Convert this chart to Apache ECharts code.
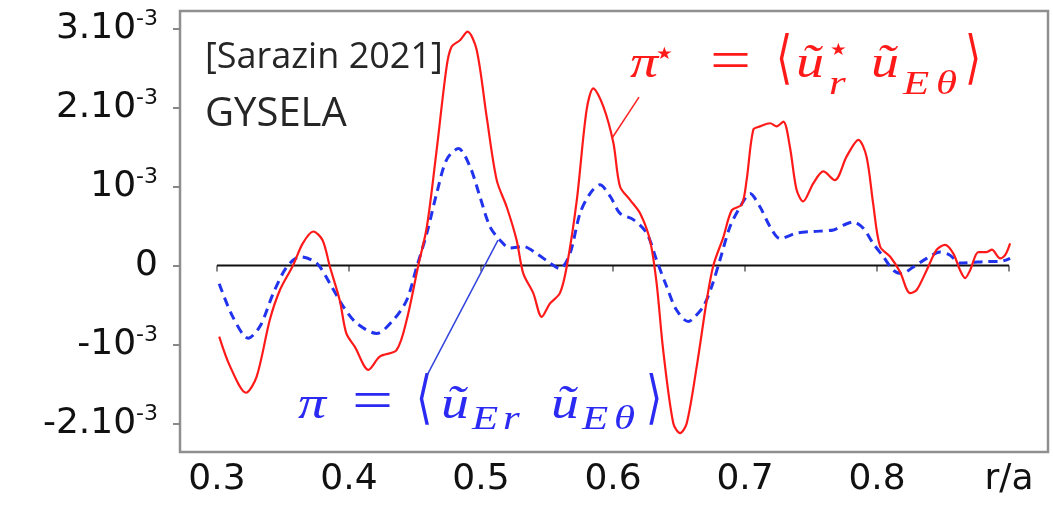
<!DOCTYPE html>
<html><head><meta charset="utf-8">
<script src="https://cdn.jsdelivr.net/npm/echarts@6/dist/echarts.min.js"></script>
<style>html,body{margin:0;padding:0;background:#fff}#c{width:1053px;height:506px}</style>
</head><body><div id="c"></div>
<script>
// values in units of 1e-3
const piStarR = [0.3017,0.31,0.322,0.330,0.340,0.3477,0.3576,0.365,0.373,0.380,0.3856,0.393,0.398,0.4045,0.4147,0.4235,0.436,0.4437,0.4525,0.459,0.4664,0.474,0.4778,0.4841,0.4898,0.4967,0.5043,0.5119,0.5195,0.527,0.532,0.5396,0.546,0.5523,0.5598,0.565,0.5726,0.580,0.5851,0.5927,0.6003,0.6053,0.6129,0.6205,0.628,0.633,0.638,0.6457,0.6508,0.6558,0.6634,0.671,0.676,0.6836,0.690,0.6975,0.7012,0.7063,0.7114,0.719,0.724,0.729,0.734,0.739,0.744,0.7517,0.7593,0.768,0.777,0.7859,0.792,0.797,0.8023,0.81,0.8174,0.825,0.830,0.8376,0.8452,0.8515,0.8578,0.8629,0.8667,0.8705,0.8768,0.883,0.887,0.8932,0.897,0.9008];
const piStarVal = [-0.90,-1.28,-1.61,-1.41,-0.69,-0.31,0.0,0.28,0.43,0.32,-0.02,-0.44,-0.86,-1.03,-1.32,-1.15,-1.07,-0.69,0.0,0.49,1.46,2.52,2.77,2.85,2.96,2.73,1.88,1.08,0.74,0.32,-0.10,-0.35,-0.65,-0.48,-0.35,-0.01,0.83,1.97,2.24,2.01,1.55,1.0,0.83,0.66,0.32,-0.22,-1.07,-2.0,-2.12,-2.0,-1.28,-0.44,0.0,0.36,0.70,0.77,1.08,1.72,1.76,1.80,1.76,1.82,1.50,0.96,0.81,1.04,1.19,1.08,1.38,1.59,1.38,0.79,0.24,0.11,-0.08,-0.35,-0.31,-0.06,0.20,0.26,0.15,-0.06,-0.16,-0.06,0.17,0.17,0.20,0.09,0.13,0.28];
const piR = [0.3017,0.312,0.3237,0.3326,0.3427,0.3528,0.363,0.3755,0.3856,0.3957,0.4058,0.421,0.4336,0.4437,0.4513,0.459,0.4664,0.474,0.4829,0.4917,0.4992,0.5068,0.5144,0.522,0.532,0.5422,0.5523,0.5598,0.5674,0.575,0.5826,0.590,0.598,0.6053,0.6154,0.6255,0.633,0.6407,0.648,0.657,0.6608,0.6684,0.6747,0.681,0.6886,0.6962,0.7038,0.7114,0.719,0.7265,0.739,0.7517,0.767,0.7745,0.782,0.7896,0.797,0.8048,0.8124,0.8187,0.8275,0.8376,0.8477,0.8553,0.8629,0.873,0.883,0.8932,0.9008];
const piVal = [-0.23,-0.65,-0.92,-0.77,-0.35,-0.02,0.11,0.03,-0.23,-0.52,-0.73,-0.86,-0.69,-0.44,-0.02,0.41,0.91,1.34,1.48,1.25,0.87,0.49,0.32,0.22,0.24,0.15,0.03,-0.04,0.15,0.66,0.91,1.02,0.87,0.66,0.58,0.41,0.07,-0.27,-0.56,-0.71,-0.67,-0.52,-0.27,0.07,0.49,0.74,0.91,0.74,0.49,0.34,0.41,0.43,0.45,0.51,0.55,0.47,0.28,0.11,-0.06,-0.10,-0.02,0.09,0.17,0.13,0.03,0.04,0.05,0.05,0.09];
const zeroR = [0.3, 0.9];
const zeroVal = [0, 0];
const xTicks = [0.3,0.4,0.5,0.6,0.7,0.8,0.9];
const xTickLabels = ['0.3','0.4','0.5','0.6','0.7','0.8','r/a'];
const yTicks = [-2,-1,0,1,2,3];
const yTickMant = ['-2.10','-10','0','10','2.10','3.10'];
const yTickExp = ['-3','-3','','-3','-3','-3'];
// leader lines (data coords)
const redLeader = [[0.6197,2.13],[0.5992,1.61]];
const blueLeader = [[0.4591,-1.39],[0.5129,0.32]];

// formula glyph layout: [text, left, vertical ref, kind]
// kinds: i = italic main, s = italic subscript, st = star, eq = '=', br = bracket
const redFormula = [['π',630,81,'i'],['★',656,55,'st'],['=',710,69,'eq'],['⟨',776,67,'br'],['ũ',796,81,'i'],['★',830,51,'st'],['r',829,97,'s'],
  ['ũ',871,81,'i'],['E',903,97,'s'],['θ',936,97,'s'],['⟩',965,67,'br']];
const blueFormula = [['π',298,422,'i'],['=',352,409,'eq'],['⟨',416,407,'br'],['ũ',441,422,'i'],['E',472,432,'s'],['r',503,432,'s'],
  ['ũ',551,422,'i'],['E',582,432,'s'],['θ',614,432,'s'],['⟩',646,407,'br']];

const pairs = (xs, ys) => xs.map((x, i) => [x, ys[i]]);
const findIdx = (arr, v) => arr.findIndex(t => Math.abs(t - v) < 1e-6);

const glyphStyle = {
  i:  {fontFamily:'Liberation Serif', fontStyle:'italic', fontSize:46, dy:-0.34 * 46, sx:1.22},
  s:  {fontFamily:'Liberation Serif', fontStyle:'italic', fontSize:33, dy:-0.34 * 33, sx:1.3},
  st: {fontFamily:'DejaVu Sans', fontStyle:'normal', fontSize:17, dy:0, sx:1.1},
  eq: {fontFamily:'Liberation Serif', fontStyle:'normal', fontSize:56, dy:-5, sx:1.3},
  br: {fontFamily:'DejaVu Sans', fontStyle:'normal', fontSize:58, dy:-5, sx:0.72}
};
function glyphs(list, color) {
  return list.map(([t, x, y, k]) => {
    const g = glyphStyle[k];
    return {type:'text', x: x, y: y + g.dy, scaleX: g.sx, silent:true,
      style:{text:t, x:0, y:0, fontFamily:g.fontFamily, fontStyle:g.fontStyle, fontSize:g.fontSize, fill:color, align:'left', verticalAlign:'middle'}};
  });
}

const chart = echarts.init(document.getElementById('c'));
const option = {
  animation: false,
  grid: {left:180, right:5, top:11, bottom:54, show:true, borderColor:'#8f8f8f', borderWidth:2.5, backgroundColor:'#fff'},
  xAxis: {
    type:'value', min:0.272, max:0.9295,
    axisLine:{show:false}, splitLine:{show:false},
    axisTick:{show:true, customValues:xTicks, length:6, lineStyle:{color:'#888', width:2}},
    axisLabel:{customValues:xTicks, formatter:v => xTickLabels[findIdx(xTicks, v)], fontFamily:'DejaVu Sans', fontSize:36, color:'#111', margin:10}
  },
  yAxis: {
    type:'value', min:-2.36, max:3.22,
    axisLine:{show:false}, splitLine:{show:false},
    axisTick:{show:true, customValues:yTicks, length:7, lineStyle:{color:'#888', width:2}},
    axisLabel:{customValues:yTicks, margin:22,
      formatter: v => { const i = findIdx(yTicks, v); return '{b|' + yTickMant[i] + '}' + (yTickExp[i] ? '{s|' + yTickExp[i] + '}' : ''); },
      rich:{
        b:{fontFamily:'DejaVu Sans', fontSize:36, lineHeight:40, color:'#111'},
        s:{fontFamily:'DejaVu Sans', fontSize:22, lineHeight:24, verticalAlign:'top', color:'#111'}
      }
    }
  },
  series: [
    {type:'line', name:'zero', data:pairs(zeroR, zeroVal), showSymbol:false, lineStyle:{color:'#111', width:2}, silent:true, z:2},
    {type:'line', name:'pi', data:pairs(piR, piVal), showSymbol:false, smooth:0.3, lineStyle:{color:'#2233ee', width:3, type:[9,6]}, z:3,
      markLine:{silent:true, symbol:'none', label:{show:false}, lineStyle:{color:'#3344dd', width:1.5, type:'solid'},
        data:[[{coord:blueLeader[0]},{coord:blueLeader[1]}]]}},
    {type:'line', name:'piStar', data:pairs(piStarR, piStarVal), showSymbol:false, smooth:0.3, lineStyle:{color:'#ff1a1a', width:2.2}, z:4,
      markLine:{silent:true, symbol:'none', label:{show:false}, lineStyle:{color:'#ff2222', width:1.5, type:'solid'},
        data:[[{coord:redLeader[0]},{coord:redLeader[1]}]]}}
  ],
  graphic: [
    {type:'text', left:205, top:40, style:{text:'[Sarazin 2021]', fontFamily:'Open Sans', fontSize:36, fill:'#262626'}},
    {type:'text', left:205, top:95, style:{text:'GYSELA', fontFamily:'Open Sans', fontSize:40, fill:'#262626'}}
  ].concat(glyphs(redFormula, '#ff1a1a'), glyphs(blueFormula, '#2a2af2'))
};
chart.setOption(option);
</script></body></html>
